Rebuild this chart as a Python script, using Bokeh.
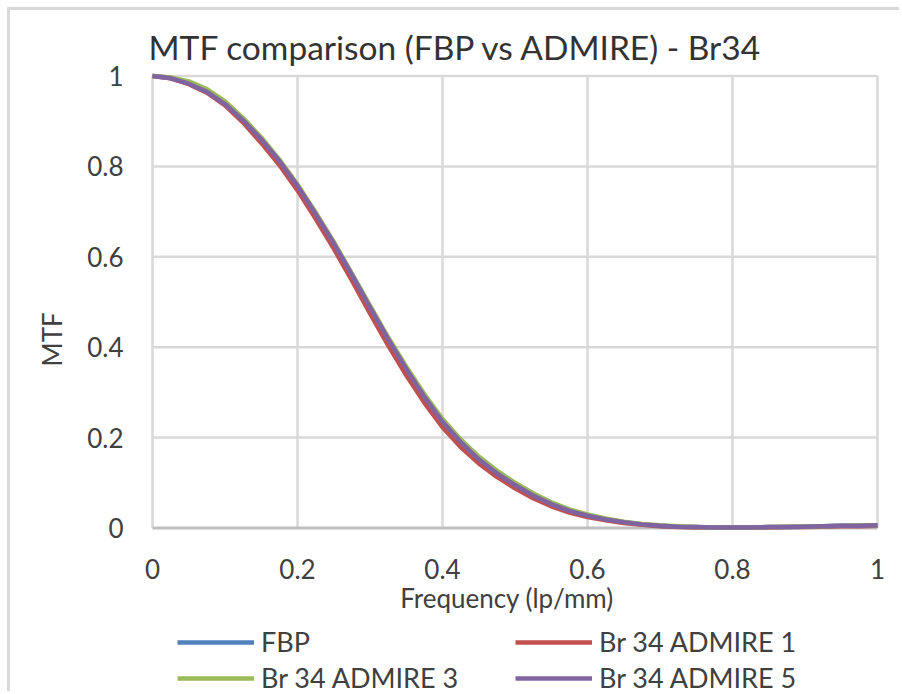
from bokeh.plotting import figure
from bokeh.models import Legend, LegendItem, Range1d, FixedTicker, Title
from bokeh.embed import file_html
from bokeh.resources import INLINE

# ---- data ----
freq = [0.000, 0.025, 0.050, 0.075, 0.100, 0.125, 0.150, 0.175, 0.200, 0.225,
        0.250, 0.275, 0.300, 0.325, 0.350, 0.375, 0.400, 0.425, 0.450, 0.475,
        0.500, 0.525, 0.550, 0.575, 0.600, 0.625, 0.650, 0.675, 0.700, 0.725,
        0.750, 0.775, 0.800, 0.825, 0.850, 0.875, 0.900, 0.925, 0.950, 0.975, 1.000]

fbp = [1.000, 0.996, 0.985, 0.967, 0.940, 0.903, 0.861, 0.813, 0.758, 0.696,
       0.631, 0.561, 0.489, 0.419, 0.354, 0.292, 0.237, 0.192, 0.154, 0.123,
       0.097, 0.074, 0.055, 0.039, 0.028, 0.020, 0.013, 0.008, 0.005, 0.003,
       0.002, 0.001, 0.001, 0.001, 0.002, 0.002, 0.003, 0.004, 0.005, 0.005, 0.006]

admire1 = [1.000, 0.995, 0.982, 0.963, 0.935, 0.897, 0.852, 0.803, 0.747, 0.684,
           0.618, 0.548, 0.475, 0.404, 0.338, 0.277, 0.223, 0.179, 0.143, 0.113,
           0.088, 0.066, 0.048, 0.034, 0.024, 0.017, 0.011, 0.007, 0.004, 0.002,
           0.001, 0.001, 0.001, 0.001, 0.001, 0.002, 0.002, 0.003, 0.004, 0.004, 0.005]

admire3 = [1.000, 0.997, 0.988, 0.971, 0.944, 0.907, 0.864, 0.815, 0.760, 0.698,
           0.633, 0.563, 0.492, 0.422, 0.357, 0.296, 0.241, 0.196, 0.158, 0.127,
           0.100, 0.077, 0.057, 0.041, 0.030, 0.021, 0.014, 0.009, 0.006, 0.004,
           0.002, 0.001, 0.001, 0.001, 0.002, 0.003, 0.003, 0.004, 0.005, 0.006, 0.006]

admire5 = [1.000, 0.995, 0.983, 0.965, 0.938, 0.902, 0.860, 0.812, 0.757, 0.695,
           0.630, 0.560, 0.488, 0.418, 0.352, 0.290, 0.235, 0.190, 0.152, 0.121,
           0.095, 0.072, 0.053, 0.038, 0.027, 0.019, 0.013, 0.008, 0.005, 0.003,
           0.002, 0.001, 0.001, 0.001, 0.002, 0.002, 0.003, 0.004, 0.005, 0.005, 0.006]

series_names = ["FBP", "Br 34 ADMIRE 1", "Br 34 ADMIRE 3", "Br 34 ADMIRE 5"]
series_colors = ["#4F81BD", "#C0504D", "#9BBB59", "#8064A2"]

x_ticks = [0.0, 0.2, 0.4, 0.6, 0.8, 1.0]
x_tick_labels = ["0", "0.2", "0.4", "0.6", "0.8", "1"]
y_ticks = [0.0, 0.2, 0.4, 0.6, 0.8, 1.0]
y_tick_labels = ["0", "0.2", "0.4", "0.6", "0.8", "1"]

title_text = "MTF comparison (FBP vs ADMIRE) - Br34"
x_label = "Frequency (lp/mm)"
y_label = "MTF"

FONT = "Lato"
TXT = "#404040"

# the frame is a little wider than 0..1 and reaches the canvas bottom,
# so that the x tick labels and the legend sit inside it
p = figure(width=892, height=684,
           x_range=Range1d(-0.0359, 1.0138), y_range=Range1d(-0.3684, 1.01),
           output_backend="svg", toolbar_location=None,
           min_border_left=116, min_border_right=15,
           min_border_top=61, min_border_bottom=0)
p.styles = {"margin-left": "7px", "margin-top": "7px",
            "border-left": "3px solid #d9d9d9", "border-top": "3px solid #d9d9d9"}

p.title.text = title_text
p.title.text_font = FONT
p.title.text_font_size = "33.5px"
p.title.text_font_style = "normal"
p.title.text_color = "#333333"
p.title.align = "left"
p.title.offset = 22
p.title.standoff = 9

p.outline_line_color = None
p.xgrid.visible = False
p.ygrid.visible = False
p.background_fill_color = "white"
p.border_fill_color = "white"

for ax in (p.xaxis[0], p.yaxis[0]):
    ax.axis_line_color = None
    ax.major_tick_line_color = None
    ax.minor_tick_line_color = None
    ax.major_tick_out = 0
    ax.major_tick_in = 0
    ax.minor_tick_out = 0
    ax.major_label_text_font = FONT
    ax.major_label_text_font_size = "26px"
    ax.major_label_text_color = TXT
    ax.axis_label_text_font = FONT
    ax.axis_label_text_font_size = "26px"
    ax.axis_label_text_font_style = "normal"
    ax.axis_label_text_color = TXT

p.xaxis.ticker = FixedTicker(ticks=x_ticks)
p.yaxis.ticker = FixedTicker(ticks=y_ticks)
p.xaxis.major_label_overrides = dict(zip(x_ticks, x_tick_labels))
p.yaxis.major_label_overrides = dict(zip(y_ticks, y_tick_labels))

p.xaxis.fixed_location = 0
p.xaxis.major_label_standoff = 31
p.xaxis.axis_label = x_label
p.xaxis.axis_label_standoff = 0

p.yaxis.major_label_standoff = 3

ytitle = Title(text=y_label, align="left", offset=328, standoff=34,
               text_font=FONT, text_font_size="26px", text_font_style="normal",
               text_color=TXT)
p.add_layout(ytitle, "left")

# grid lines (plot-area gridlines at tick positions)
p.segment(x0=x_ticks, y0=[0] * len(x_ticks), x1=x_ticks, y1=[1] * len(x_ticks),
          line_color="#d9d9d9", line_width=2.5)
p.segment(x0=[0] * (len(y_ticks) - 1), y0=y_ticks[1:], x1=[1] * (len(y_ticks) - 1),
          y1=y_ticks[1:], line_color="#d9d9d9", line_width=2.5)
# horizontal axis line
p.segment(x0=[0], y0=[0], x1=[1], y1=[0], line_color="#bfbfbf", line_width=3)

renderers = {}
for ys, name, col in zip([fbp, admire1, admire3, admire5], series_names, series_colors):
    renderers[name] = p.line(freq, ys, line_color=col, line_width=4.5, line_join="round")

# legend is laid out column by column: first column FBP / ADMIRE 3, second ADMIRE 1 / ADMIRE 5
legend_order = ["FBP", "Br 34 ADMIRE 3", "Br 34 ADMIRE 1", "Br 34 ADMIRE 5"]
legend = Legend(items=[LegendItem(label=n, renderers=[renderers[n]]) for n in legend_order],
                ncols=2, location=(51, 0),
                glyph_width=77, glyph_height=32, label_height=32, label_width=251,
                label_standoff=7, spacing=3, padding=0, margin=0,
                label_text_font=FONT, label_text_font_size="27px", label_text_color=TXT,
                border_line_color=None, background_fill_alpha=0)
p.add_layout(legend, "center")

open("out.html", "w").write(file_html(p, INLINE))
